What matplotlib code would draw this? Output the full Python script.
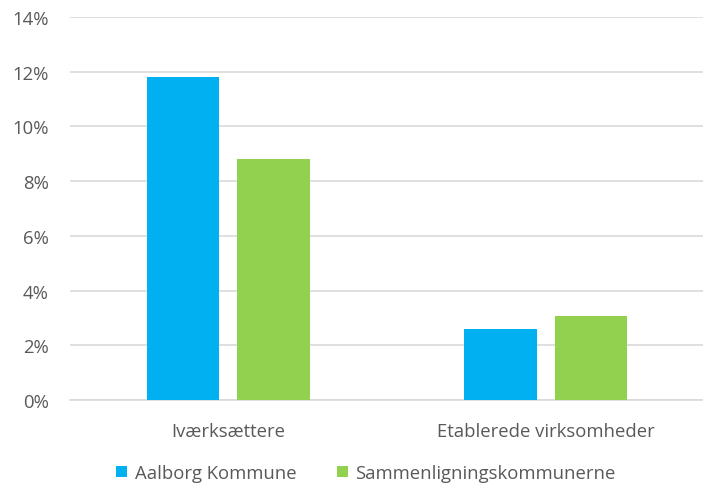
import matplotlib
matplotlib.use("Agg")
import matplotlib.pyplot as plt
import numpy as np
from matplotlib.ticker import FuncFormatter

categories = ["Iværksættere", "Etablerede virksomheder"]
series_names = ["Aalborg Kommune", "Sammenligningskommunerne"]
aalborg = [11.8, 2.6]
sammen = [8.8, 3.08]
colors = ["#00B0F0", "#92D050"]

plt.rcParams['font.family'] = ['Open Sans', 'DejaVu Sans']
txt = "#595959"

fig = plt.figure(figsize=(7.03, 4.89), dpi=100)
ax = fig.add_axes([69.5/703, 1-401/489, 635/703, (401-18)/489])

x = np.arange(len(categories))
w = 0.228
off = 0.143
ax.bar(x - off, aalborg, w, color=colors[0], label=series_names[0], zorder=3)
ax.bar(x + off, sammen, w, color=colors[1], label=series_names[1], zorder=3)

ax.set_xlim(-0.5, 1.5)
ax.set_ylim(0, 14)
ax.set_yticks(np.arange(0, 15, 2))
ax.yaxis.set_major_formatter(FuncFormatter(lambda v, p: f"{int(v)}%"))
ax.set_xticks(x)
ax.set_xticklabels(categories)
ax.grid(axis='y', color="#D9D9D9", linewidth=1.2, zorder=0)
for s in ['top', 'right', 'left']:
    ax.spines[s].set_visible(False)
ax.spines['bottom'].set_color("#D9D9D9")
ax.spines['bottom'].set_linewidth(1.2)
ax.tick_params(axis='both', length=0, colors=txt, labelsize=13.3)
ax.tick_params(axis='y', pad=15)
ax.tick_params(axis='x', pad=16)

leg = fig.legend(loc='center', bbox_to_anchor=(366/703, 1-474/489), ncol=2, frameon=False,
                 fontsize=13.3, handlelength=0.6, handleheight=0.6, handletextpad=0.4,
                 columnspacing=2.2)
for t in leg.get_texts():
    t.set_color(txt)

fig.savefig("out.png", dpi=100)
